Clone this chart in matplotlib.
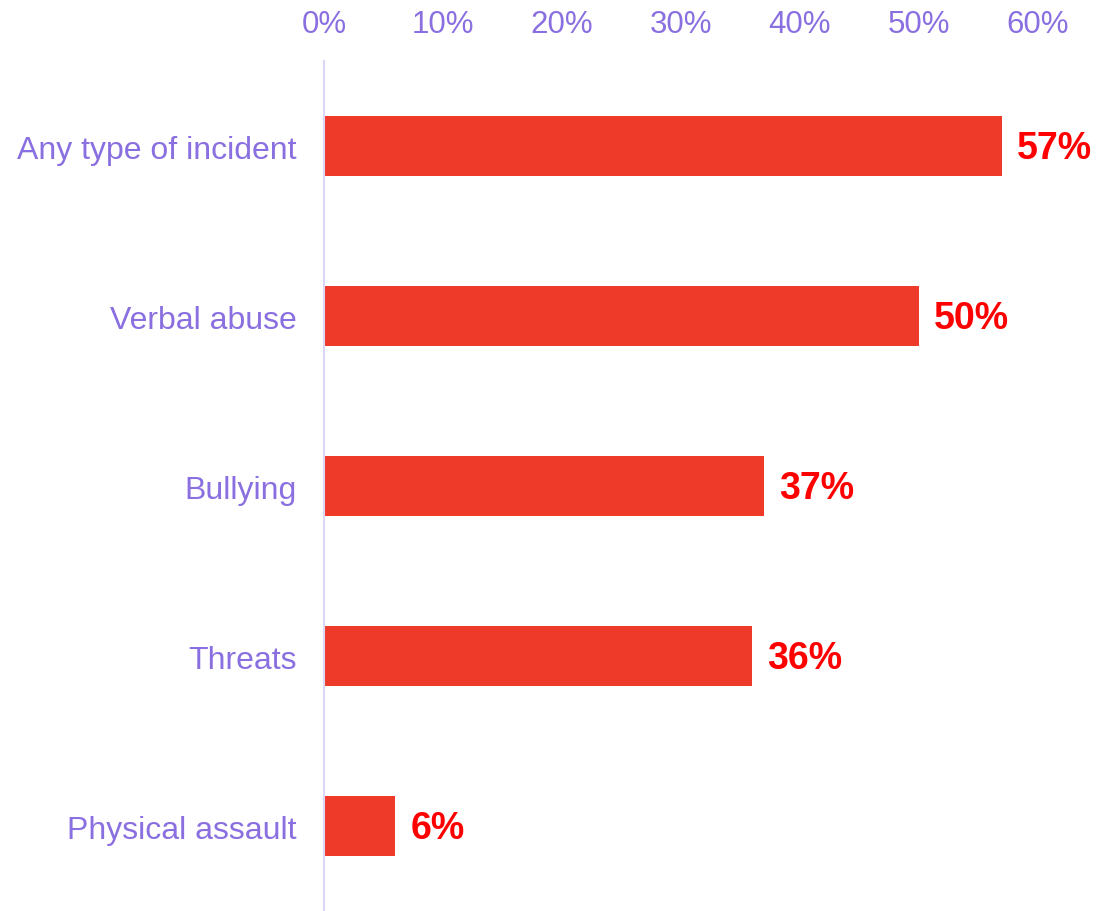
import matplotlib
matplotlib.use("Agg")
import matplotlib.pyplot as plt
from matplotlib.ticker import FuncFormatter

# --- data ---
categories = ["Any type of incident", "Verbal abuse", "Bullying", "Threats", "Physical assault"]
values = [57, 50, 37, 36, 6]
xticks = [0, 10, 20, 30, 40, 50, 60]

bar_color = "#EE3A28"
label_color = "#FF0000"
tick_color = "#8A6FE0"
axis_color = "#DCD6F7"

plt.rcParams["font.family"] = ["Liberation Sans", "DejaVu Sans"]

fig = plt.figure(figsize=(11.17, 9.12), dpi=100)
ax = fig.add_axes([0.290, 0.0, 0.639, 0.932])

ypos = list(range(len(categories)))
ax.barh(ypos, values, height=0.35, color=bar_color)

for y, v in zip(ypos, values):
    ax.text(v + 1.25, y + 0.01, f"{v}%", va="center", ha="left",
            fontsize=27, fontweight="bold", color=label_color)

ax.set_xlim(0, 60)
ax.set_ylim(len(categories) - 0.5, -0.5)
ax.set_yticks(ypos)
ax.set_yticklabels(categories)
ax.set_xticks(xticks)
ax.xaxis.set_major_formatter(FuncFormatter(lambda x, _: f"{x:.0f}%"))
ax.xaxis.tick_top()

ax.tick_params(axis="x", length=0, pad=15.5, labelsize=22.5, labelcolor=tick_color)
ax.tick_params(axis="y", length=0, pad=19.5, labelsize=23, labelcolor=tick_color)

for s in ["top", "right", "bottom"]:
    ax.spines[s].set_visible(False)
ax.spines["left"].set_color(axis_color)
ax.spines["left"].set_linewidth(1.5)

fig.savefig("out.png", dpi=100)
